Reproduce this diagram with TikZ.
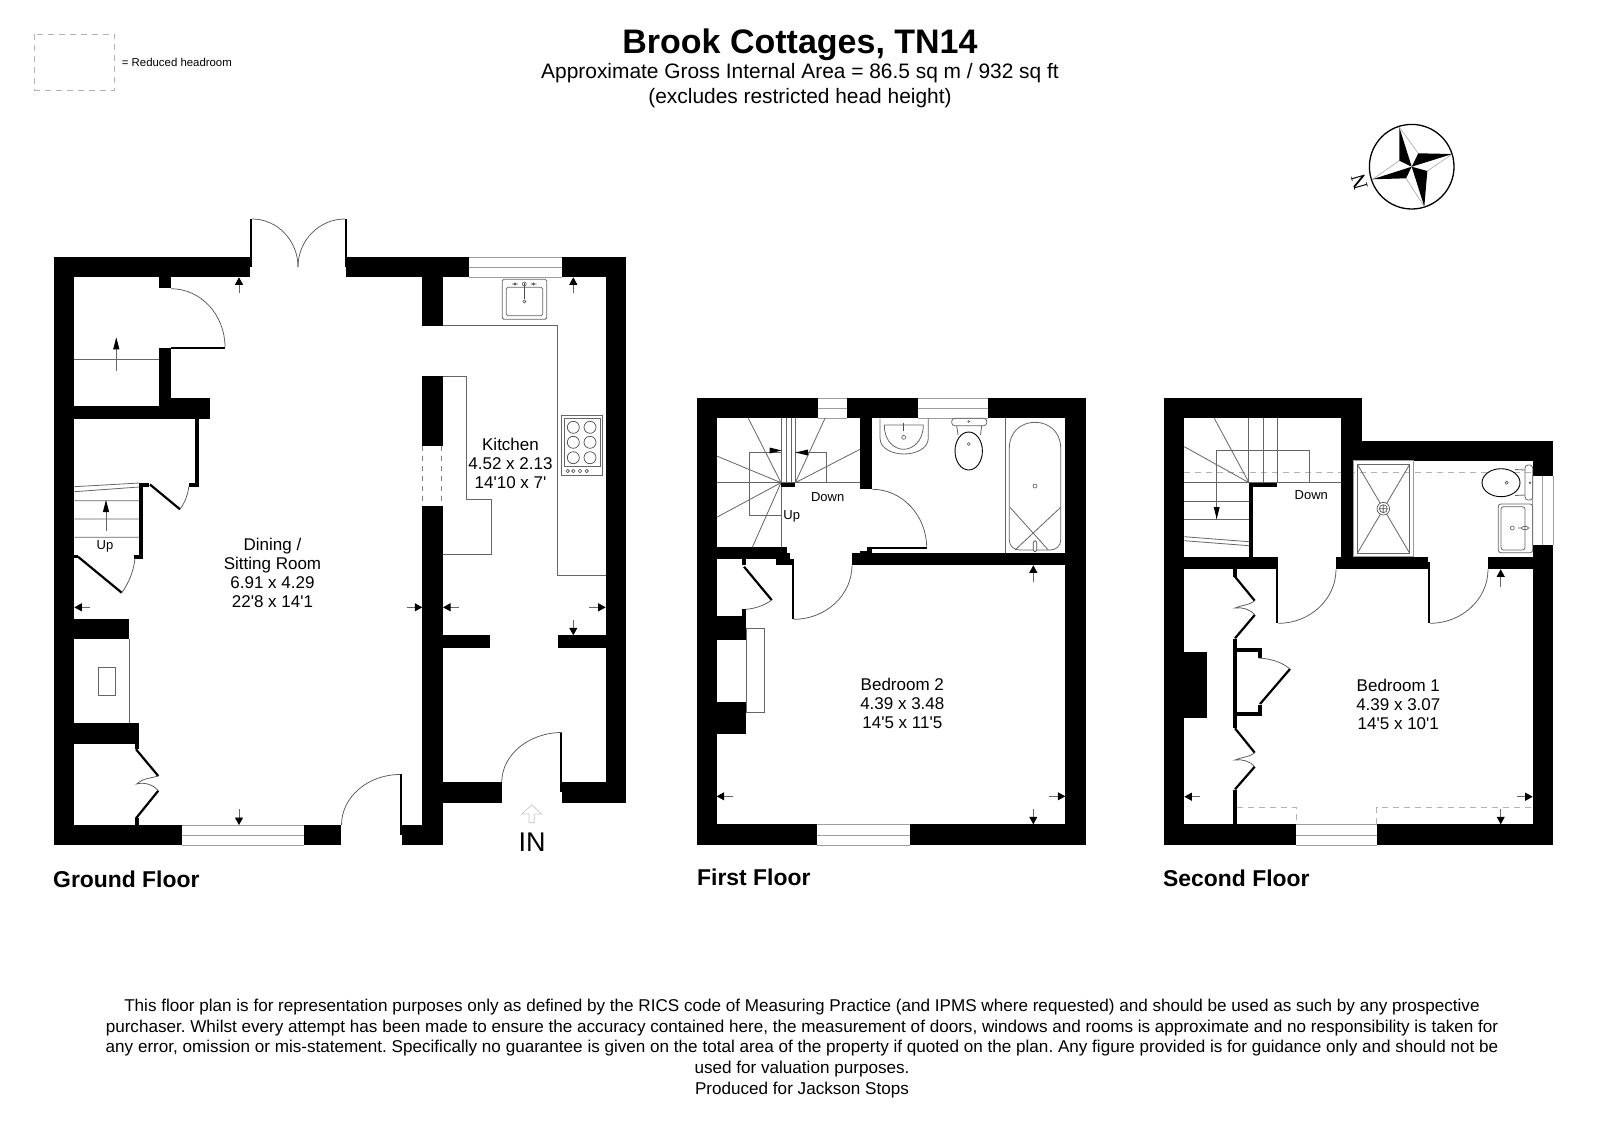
\documentclass[tikz,border=0pt]{standalone}
\usepackage{fontspec}
\newfontfamily\plan{Liberation Sans}
\newfontfamily\plans{Liberation Serif}
\usetikzlibrary{arrows.meta}
\tikzset{
  roomtext/.style={inner sep=0pt,align=center,font=\plan\fontsize{17}{19}\selectfont},
  smalltext/.style={inner sep=0pt,font=\plan\fontsize{13}{15}\selectfont},
  floortext/.style={inner sep=0pt,anchor=west,font=\plan\bfseries\fontsize{22.9}{26}\selectfont},
  fine/.style={draw=black!60,line width=0.8pt},
  glass/.style={draw=black!38,line width=1pt},
  swing/.style={draw=black!65,line width=0.75pt},
  doorleaf/.style={draw=black,line width=2.2pt},
  headroom/.style={draw=black!30,line width=0.9pt,dash pattern=on 6pt off 5pt},
  dimline/.style={draw=black!60,line width=0.8pt,-{Triangle[length=7.5pt,width=8pt,color=black,fill=black]}},
  slimarrow/.style={draw=black!60,line width=0.8pt,-{Triangle[length=12pt,width=6pt,color=black,fill=black]}}
}
\newcommand{\wallr}[4]{\fill[black] (#1,#2) rectangle (#3,#4);}
\newcommand{\dimarr}[4]{\draw[dimline] (#1,#2) -- (#3,#4);}
\newcommand{\qarc}[4]{\draw[swing] (#1,#2) .. controls ({#1+0.5523*(#3-#1)},#2) and (#3,{#4-0.5523*(#4-#2)}) .. (#3,#4);}
\newcommand{\winh}[5]{\draw[glass] (#1,#3) -- (#2,#3) (#1,#4) -- (#2,#4) (#1,#5) -- (#2,#5);}
\begin{document}
\begin{tikzpicture}[x=1pt,y=-1pt]
\useasboundingbox (0,0) rectangle (1600,1130);
\fill[white] (0,0) rectangle (1600,1130);

% ---------- header
\node[inner sep=0pt,font=\plan\bfseries\fontsize{34}{38}\selectfont] (title) at (800,45) {Brook Cottages, TN14};
\node[inner sep=0pt,align=center,font=\plan\fontsize{20.9}{24.5}\selectfont] (area) at (800,85.5) {Approximate Gross Internal Area = 86.5 sq m / 932 sq ft\\(excludes restricted head height)};
\draw[headroom] (34.7,34) rectangle (114.7,90);
\node[inner sep=0pt,anchor=west,font=\plan\fontsize{11.4}{13}\selectfont] (hrkey) at (121.7,62.7) {= Reduced headroom};

% ---------- compass
\draw[black,line width=1.3pt] (1411.7,166.7) circle[radius=42.3pt];
\draw[black!35,line width=0.6pt] (1399.3,127.3) -- (1418.3,153.3) (1452.3,154) -- (1427.3,171) (1424.3,206.7) -- (1406,178.3) (1372.3,179.3) -- (1399.3,160.7);
\fill[black] (1399.3,127.3) -- (1399.3,160.7) -- (1411.7,166.7) -- cycle;
\fill[black] (1452.3,154) -- (1418.3,153.3) -- (1411.7,166.7) -- cycle;
\fill[black] (1424.3,206.7) -- (1427.3,171) -- (1411.7,166.7) -- cycle;
\fill[black] (1372.3,179.3) -- (1406,178.3) -- (1411.7,166.7) -- cycle;
\node[inner sep=0pt,rotate=106,font=\plans\fontsize{21}{23}\selectfont] (north) at (1359.5,181.7) {N};

% ---------- GROUND FLOOR walls
\wallr{54}{257.3}{250}{277.3}
\wallr{346}{257.3}{626}{277.3}
\wallr{54}{257.3}{74.3}{845}
\wallr{158.7}{277.3}{171}{288.3}
\wallr{158.7}{348.3}{171}{418.7}
\wallr{74}{406}{171}{418.7}
\wallr{158.7}{398}{210}{418.7}
\wallr{194.7}{418.7}{198.7}{486.7}
\wallr{188.7}{482.7}{198.7}{486.7}
\wallr{139}{482.7}{143}{559}
\wallr{139}{482.7}{149.3}{486.5}
\wallr{134.3}{555}{143}{559}
\wallr{74}{555}{78}{558}
\wallr{74}{619}{129}{639.3}
\wallr{74}{723.3}{139}{744}
\wallr{134.7}{744}{139}{749.3}
\wallr{134.7}{817.7}{139}{825}
\wallr{54}{825}{181.7}{845}
\wallr{304}{825}{341.3}{845}
\wallr{401.5}{825}{443}{845}
\wallr{422.3}{257.3}{443}{326}
\wallr{422.3}{375.7}{443}{446}
\wallr{422.3}{505.7}{443}{845}
\wallr{443}{635.3}{490.3}{648}
\wallr{557.7}{635.3}{605.7}{648}
\wallr{443}{782.3}{501.7}{802.7}
\wallr{561.7}{782.3}{626}{802.7}
\wallr{605.7}{257.3}{626}{802.7}
\wallr{250}{219}{252}{267}
\wallr{345}{219}{346.7}{267}
\wallr{560}{732.3}{562.3}{792}
\wallr{399.7}{774.3}{401.7}{835}
\wallr{171}{346.7}{225}{348.7}

% white opening in kitchen window
\fill[white] (469,256) rectangle (561.7,278);
\winh{469}{561.7}{257.3}{267.3}{277.3}

% ground floor fixtures
\draw[fine] (74.3,359) -- (158.7,359);
\draw[fine] (443,325.7) -- (557.3,325.7) -- (557.3,575.7) -- (605.7,575.7);
\draw[fine] (443,376) -- (466.7,376) -- (466.7,499.3) -- (491,499.3) -- (491,554) -- (443,554);
\draw[fine] (129,639.3) -- (129,723.3);
\draw[fine] (98.3,667) rectangle (115.7,695.7);
\draw[black!50,line width=0.8pt,dash pattern=on 5pt off 5pt] (422.7,446) -- (422.7,505.7) (441.7,446) -- (441.7,505.7);
\winh{181.7}{304}{825}{835}{845}

% ground floor stairs
\draw[fine] (74.3,486.7) -- (139,483) (74.3,491.7) -- (139,487) (74.3,500.7) -- (139,500.7) (74.3,519) -- (139,519) (74.3,537.3) -- (139,537.3);
\draw[slimarrow] (106,531) -- (106,500);
\draw[slimarrow] (116.3,370.7) -- (116.3,337.3);
\node[smalltext] (gfup) at (105,546.7) {Up};

% ground floor doors
\qarc{171}{288.7}{225}{347}
\qarc{252}{219}{298}{267}
\qarc{345}{219}{298}{267}
\qarc{400}{774.5}{341.5}{825}
\qarc{562}{732.5}{501.7}{782.5}
\draw[doorleaf] (150,484.5) -- (180,509.3);
\draw[swing] (180,509.3) .. controls (185,502) and (188,495) .. (188.7,486.7);
\draw[doorleaf] (78,556.7) -- (121.7,592.7);
\draw[swing] (121.7,592.7) .. controls (129,583) and (134,570) .. (135,558);
\draw[doorleaf] (136,749.3) -- (158.3,776);
\draw[doorleaf] (158.3,790.7) -- (136,818.3);
\draw[swing] (158.3,776) .. controls (152,778) and (143,778) .. (136.7,784) .. controls (143,782) and (153,784) .. (158.3,790.7);

% ground floor kitchen appliances
\draw[fine,rounded corners=1.5pt] (502.3,279.3) rectangle (546.7,319.3);
\draw[fine,rounded corners=1.5pt] (506.3,287.3) rectangle (542.7,315.7);
\draw[black!70,line width=1.6pt] (524.3,283) -- (524.3,299);
\draw[black!65,line width=0.6pt] (524.3,284) circle[radius=2pt] (524.3,301.5) circle[radius=1.6pt] (515,284) circle[radius=1.2pt] (533.5,284) circle[radius=1.2pt] (512,284) -- (518,284) (530.5,284) -- (536.5,284);
\draw[fine] (561.3,415.7) rectangle (602.3,475.7);
\draw[fine] (564,418.3) rectangle (600,466.7);
\draw[black!70,line width=0.7pt] (573.3,427.3) circle[radius=6pt] (590,427.3) circle[radius=6pt] (573.3,442.3) circle[radius=6pt] (590,442.3) circle[radius=6pt] (573.3,457.7) circle[radius=6pt] (590,457.7) circle[radius=6pt];
\draw[black!70,line width=0.6pt] (567.7,471) circle[radius=1.7pt] (573.3,471) circle[radius=1.7pt] (580,471) circle[radius=1.7pt] (586.7,471) circle[radius=1.7pt];

% ground floor dimension arrows
\dimarr{90}{607.3}{74.3}{607.3}
\dimarr{406.7}{607.3}{422.3}{607.3}
\dimarr{458.7}{607.3}{443}{607.3}
\dimarr{589.3}{607.3}{605.7}{607.3}
\dimarr{573.3}{620}{573.3}{635.3}
\dimarr{239}{809.3}{239}{825}
\dimarr{239}{293.3}{239}{277.3}
\dimarr{573.3}{292.7}{573.3}{277.3}

% entrance arrow
\draw[black!22,line width=0.7pt] (529,822.7) -- (529,814) -- (521.7,814) -- (531.7,805) -- (541.7,814) -- (534.3,814) -- (534.3,822.7) -- cycle;
\node[inner sep=0pt,font=\plan\fontsize{27}{30}\selectfont] (inlabel) at (532,841.7) {IN};
\node[roomtext] (dining) at (272.5,572.7) {Dining /\\Sitting Room\\6.91 x 4.29\\22'8 x 14'1};
\node[roomtext] (kitchen) at (510.5,463.5) {Kitchen\\4.52 x 2.13\\14'10 x 7'};
\node[floortext] (gf) at (53,879) {Ground Floor};

% ---------- FIRST FLOOR walls
\wallr{696.7}{398.3}{817.7}{418.3}
\wallr{847.3}{398.3}{917.7}{418.3}
\wallr{988}{398.3}{1085.7}{418.3}
\wallr{696.7}{398.3}{716.7}{845.3}
\wallr{1065.3}{398.3}{1085.7}{845.3}
\wallr{696.7}{824.3}{816.7}{845.3}
\wallr{910}{824.3}{1085.7}{845.3}
\wallr{860}{418.3}{872.3}{489.3}
\wallr{852}{553.3}{1065.3}{565.3}
\wallr{860}{550.5}{872.3}{553.3}
\wallr{866.7}{547.3}{872.3}{553.3}
\wallr{866.7}{547.3}{926.7}{549.3}
\wallr{716.7}{547.3}{786.7}{559.3}
\wallr{775.7}{559.3}{792.7}{565.3}
\wallr{786.7}{552.5}{790}{559.3}
\wallr{791.7}{559.3}{793.7}{619.3}
\wallr{741.7}{559.3}{746}{564.7}
\wallr{741.7}{609.3}{746}{615.7}
\wallr{716.7}{615.7}{746}{640}
\wallr{716.7}{702.3}{746.3}{734.3}
\draw[fine] (746.3,628.3) rectangle (764.3,712.7);
\draw[glass] (817.7,398.3) -- (847.3,398.3) (817.7,408) -- (847.3,408) (817.7,418.3) -- (847.3,418.3);
\winh{917.7}{988}{398.3}{408}{418.3}
\winh{816.7}{910}{824.3}{835}{845.3}
\draw[fine] (1005,418.3) -- (1005,553.3);

% first floor stairs
\draw[fine] (716.7,482.7) -- (860,482.7);
\draw[fine] (826.3,482.7) -- (826.3,452.3) -- (795.3,452.3);
\draw[fine] (781.7,452.3) -- (749,452.3) -- (749,515) -- (781.7,515);
\draw[fine] (781.7,482.7) -- (781.7,547.3);
\draw[fine] (781.7,418.3) -- (781.7,482.7) (786.3,418.3) -- (786.3,482.7) (791,418.3) -- (791,482.7) (795.3,418.3) -- (795.3,482.7);
\draw[fine] (781,482.7) -- (748.3,418.3) (781,482.7) -- (716.7,456) (781,482.7) -- (716.7,517.3) (781,482.7) -- (752.3,547.3);
\draw[fine] (795.3,482.7) -- (825,418.3) (795.3,482.7) -- (860,449.3);
\wallr{781}{482.7}{795.3}{486.7}
\fill[black] (781.7,450.5) -- (769.5,447.5) -- (769.5,453.5) -- cycle;
\fill[black] (795.3,452.5) -- (808,449.5) -- (808,455.5) -- cycle;
\node[smalltext] (ffdown) at (827.7,496.7) {Down};
\node[smalltext] (ffup) at (791.7,516.7) {Up};

% first floor doors
\qarc{872.3}{489.3}{926.7}{548}
\qarc{793.7}{619.3}{852}{565.3}
\draw[doorleaf] (744,566.7) -- (771.7,600);
\draw[swing] (771.7,600) .. controls (765,605) and (756,608.5) .. (746,609.3);

% first floor sanitary
\draw[fine] (880,418.3) -- (880,438) .. controls (880,449) and (893,454) .. (904,454) .. controls (915,454) and (928.3,449) .. (928.3,438) -- (928.3,418.3);
\draw[fine] (884.3,425) -- (923.3,425) .. controls (923.3,442) and (912,449.3) .. (903.7,449.3) .. controls (895,449.3) and (884.3,442) .. (884.3,425);
\draw[black!70,line width=1.5pt] (903.7,422.5) -- (903.7,431);
\draw[black!65,line width=0.6pt] (903.7,437.3) circle[radius=2pt];
\draw[fine,rounded corners=3pt] (951.7,418.3) rectangle (986.7,425.7);
\draw[fine] (956.7,425.7) -- (958,435) (981.7,425.7) -- (980.5,435);
\draw[black,line width=0.9pt] (968.7,451) ellipse[x radius=13.7pt,y radius=19pt];
\draw[black!65,line width=0.6pt] (968.7,444) circle[radius=1.5pt] (968.7,421.5) circle[radius=1pt];
\draw[fine] (1009.3,448) .. controls (1009.3,432.5) and (1020.5,422.3) .. (1035,422.3) .. controls (1049.5,422.3) and (1060.7,432.5) .. (1060.7,448) -- (1060.7,540) .. controls (1060.7,546) and (1056,550) .. (1050,550) -- (1020,550) .. controls (1014,550) and (1009.3,546) .. (1009.3,540) -- cycle;
\draw[fine] (1010,507.3) -- (1048.3,550) (1060.7,507.3) -- (1015,550);
\draw[black!65,line width=0.6pt] (1035,486) circle[radius=2pt];
\draw[black!70,line width=0.7pt,rounded corners=1.5pt,fill=white] (1033.3,540.7) rectangle (1036.7,551.7);

% first floor dimension arrows and text
\dimarr{1033.3}{581.7}{1033.3}{565.3}
\dimarr{733.3}{796.3}{716.7}{796.3}
\dimarr{1049.3}{796.3}{1065.3}{796.3}
\dimarr{1033.3}{809.3}{1033.3}{824.3}
\node[roomtext] (bed2) at (902.3,703.7) {Bedroom 2\\4.39 x 3.48\\14'5 x 11'5};
\node[floortext] (ff) at (697,877.6) {First Floor};

% ---------- SECOND FLOOR
\draw[headroom] (1184.3,472.3) -- (1532,472.3);
\wallr{1164}{398.3}{1361.7}{418.3}
\wallr{1164}{398.3}{1184.3}{845.3}
\wallr{1341.3}{398.3}{1361.7}{460.7}
\wallr{1341.3}{460}{1353.7}{556.7}
\wallr{1361.7}{440.7}{1553}{460.7}
\wallr{1532.7}{440.7}{1553}{476}
\wallr{1532.7}{545}{1553}{845.3}
\wallr{1164}{824.3}{1296}{845.3}
\wallr{1376.7}{824.3}{1553}{845.3}
\wallr{1184.3}{556.7}{1276}{569.3}
\wallr{1276}{556.7}{1278.3}{623.3}
\wallr{1336}{556.7}{1428.3}{569.3}
\wallr{1427.7}{562}{1430}{623.3}
\wallr{1488}{556.7}{1532.7}{569.3}
\wallr{1249}{482.7}{1253}{556.7}
\wallr{1249}{482.7}{1277.3}{486.7}
\wallr{1184.3}{651.7}{1206.7}{718}
\wallr{1232.7}{569.3}{1236.7}{576.7}
\wallr{1232.7}{639.3}{1236.7}{727.7}
\wallr{1236.7}{648.3}{1262.3}{652.3}
\wallr{1258.3}{652.3}{1262.3}{658.3}
\wallr{1236.7}{711.7}{1262.3}{715.7}
\wallr{1258.3}{705.3}{1262.3}{711.7}
\wallr{1232.7}{790}{1236.7}{824.3}
\winh{1296}{1376.7}{824.3}{835}{845.3}
\draw[glass] (1532.7,476) -- (1532.7,545) (1542.7,476) -- (1542.7,545) (1553,476) -- (1553,545);
\draw[headroom] (1236.7,807.7) -- (1296.7,807.7) -- (1296.7,824.3);
\draw[headroom] (1376.7,824.3) -- (1376.7,807.7) -- (1532.7,807.7);

% second floor stairs
\draw[fine] (1184.3,482.7) -- (1341.3,482.7);
\draw[fine] (1216.7,519) -- (1216.7,450.3) -- (1309.3,450.3) -- (1309.3,482.7);
\draw[fine] (1248.3,418.3) -- (1248.3,482.7) (1263.3,418.3) -- (1263.3,482.7) (1277.3,418.3) -- (1277.3,482.7);
\draw[fine] (1249,482.7) -- (1214.3,418.3) (1249,482.7) -- (1184.3,446.7);
\draw[fine] (1184.3,501) -- (1249,501) (1184.3,519) -- (1249,519);
\draw[fine] (1184.3,536.7) -- (1249,541.7) (1184.3,540.7) -- (1249,545.7);
\fill[black] (1216.7,519) -- (1213.7,507) -- (1219.7,507) -- cycle;
\node[smalltext] (sfdown) at (1311.3,494.7) {Down};

% second floor doors
\qarc{1278.3}{623.3}{1336}{569.3}
\qarc{1430}{623.3}{1488}{569.3}
\draw[doorleaf] (1235,576.7) -- (1254.7,600.7);
\draw[doorleaf] (1254.7,615) -- (1235,638.3);
\draw[swing] (1254.7,600.7) .. controls (1248,606) and (1241,605) .. (1235,608) .. controls (1242,607) and (1250,609) .. (1254.7,615);
\draw[doorleaf] (1235,728.3) -- (1254.7,752.7);
\draw[doorleaf] (1254.7,766.7) -- (1235,789.3);
\draw[swing] (1254.7,752.7) .. controls (1248,758) and (1241,757) .. (1235,760) .. controls (1242,759) and (1250,761) .. (1254.7,766.7);
\draw[doorleaf] (1290,669) -- (1260,704);
\draw[swing] (1258.3,658) .. controls (1270,658.5) and (1282,662) .. (1290,669);

% second floor shower, toilet, basin
\draw[draw=black!40,line width=0.8pt] (1353.7,460.7) rectangle (1413.3,556.7);
\draw[fine] (1357.3,464.3) rectangle (1409.7,553.3);
\draw[fine] (1357.3,464.3) -- (1409.7,553.3) (1409.7,464.3) -- (1357.3,553.3);
\fill[white] (1383.3,508.7) circle[radius=6.3pt];
\draw[black!65,line width=0.7pt] (1383.3,508.7) circle[radius=6.3pt] (1383.3,508.7) circle[radius=4pt] (1379.3,508.7) -- (1387.3,508.7) (1383.3,504.7) -- (1383.3,512.7);
\draw[fine,rounded corners=3pt] (1525,465) -- (1532.7,465) -- (1532.7,500) -- (1525,500) -- cycle;
\draw[fine] (1515,469.5) -- (1525,470) (1515,495.5) -- (1525,495);
\fill[white] (1501,482.7) ellipse[x radius=19pt,y radius=14pt];
\draw[black,line width=0.9pt] (1501,482.7) ellipse[x radius=19pt,y radius=14pt];
\draw[black!65,line width=0.6pt] (1506.7,482.7) circle[radius=1.6pt] (1530,482.7) circle[radius=1pt];
\draw[fine,rounded corners=2.5pt] (1498.3,504) rectangle (1532.7,552.7);
\draw[fine,rounded corners=2.5pt] (1501,506.7) rectangle (1525,550);
\draw[black!65,line width=0.6pt] (1512.3,528) circle[radius=2pt];
\draw[black!65,line width=0.7pt] (1525,528) ellipse[x radius=3.6pt,y radius=1.6pt] (1518,528) -- (1522,528);

% second floor dimension arrows and text
\dimarr{1500.7}{587}{1500.7}{569.3}
\dimarr{1200}{796.7}{1184.3}{796.7}
\dimarr{1516.7}{796.7}{1532.7}{796.7}
\dimarr{1500.7}{809.3}{1500.7}{824.3}
\node[roomtext] (bed1) at (1398.3,704.7) {Bedroom 1\\4.39 x 3.07\\14'5 x 10'1};
\node[floortext] (sf) at (1163,878.6) {Second Floor};

% ---------- disclaimer
\node[inner sep=0pt,align=center,font=\plan\frenchspacing\fontsize{17.1}{20.7}\selectfont] (disclaimer) at (802,1048.5) {This floor plan is for representation purposes only as defined by the RICS code of Measuring Practice (and IPMS where requested) and should be used as such by any prospective\\purchaser. Whilst every attempt has been made to ensure the accuracy contained here, the measurement of doors, windows and rooms is approximate and no responsibility is taken for\\any error, omission or mis-statement. Specifically no guarantee is given on the total area of the property if quoted on the plan. Any figure provided is for guidance only and should not be\\used for valuation purposes.\\Produced for Jackson Stops};
\end{tikzpicture}
\end{document}
